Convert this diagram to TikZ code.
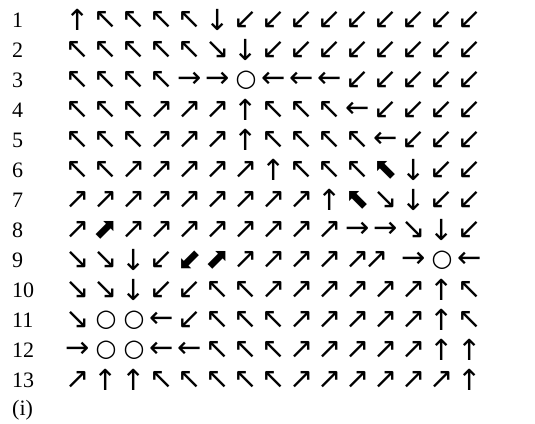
\documentclass[tikz,border=0pt]{standalone}
\usepackage{fontspec}
\setmainfont{Liberation Serif}
\newfontfamily\arrowfont{DejaVu Sans}
\usetikzlibrary{positioning}

\newcommand\ringglyph{{\fontsize{24}{24}\selectfont ○}}

\begin{document}
\begin{tikzpicture}[
  x=1pt, y=1pt,
  rowlabel/.style={anchor=west, inner sep=0pt, font=\fontsize{22}{22}\selectfont},
  cell/.style={anchor=center, inner sep=0pt, font=\arrowfont\fontsize{29}{29}\selectfont}
]
  \useasboundingbox (0,0) rectangle (535,-423);

  % Row numbers
  \foreach \r in {1,...,13}
    \node[rowlabel] (lab\r) at (12,{-20-30*(\r-1)}) {\r};
  \node[rowlabel] (labi) at (12,-410) {(i)};

  % Arrow field, one row per entry
  \foreach \r/\row in {
    1/{↑,↖,↖,↖,↖,↓,↙,↙,↙,↙,↙,↙,↙,↙,↙},
    2/{↖,↖,↖,↖,↖,↘,↓,↙,↙,↙,↙,↙,↙,↙,↙},
    3/{↖,↖,↖,↖,→,→,\ringglyph,←,←,←,↙,↙,↙,↙,↙},
    4/{↖,↖,↖,↗,↗,↗,↑,↖,↖,↖,←,↙,↙,↙,↙},
    5/{↖,↖,↖,↗,↗,↗,↑,↖,↖,↖,↖,←,↙,↙,↙},
    6/{↖,↖,↗,↗,↗,↗,↗,↑,↖,↖,↖,⬉,↓,↙,↙},
    7/{↗,↗,↗,↗,↗,↗,↗,↗,↗,↑,⬉,↘,↓,↙,↙},
    8/{↗,⬈,↗,↗,↗,↗,↗,↗,↗,↗,→,→,↘,↓,↙},
    9/{↘,↘,↓,↙,⬋,⬈,↗,↗,↗,↗,{},{},→,\ringglyph,←},
    10/{↘,↘,↓,↙,↙,↖,↖,↗,↗,↗,↗,↗,↗,↑,↖},
    11/{↘,\ringglyph,\ringglyph,←,↙,↖,↖,↖,↗,↗,↗,↗,↗,↑,↖},
    12/{→,\ringglyph,\ringglyph,←,←,↖,↖,↖,↗,↗,↗,↗,↗,↑,↑},
    13/{↗,↑,↑,↖,↖,↖,↖,↖,↗,↗,↗,↗,↗,↗,↑}} {
    \foreach \g [count=\c] in \row
      \node[cell] (r\r c\c) at ({78+28*(\c-1)},{-20-30*(\r-1)}) {\g};
  }

  % double arrow squeezed into row 9
  \node[cell] (r9pair) at ({78+28*10+9},-260) {↗\kern-5pt↗};
\end{tikzpicture}
\end{document}
